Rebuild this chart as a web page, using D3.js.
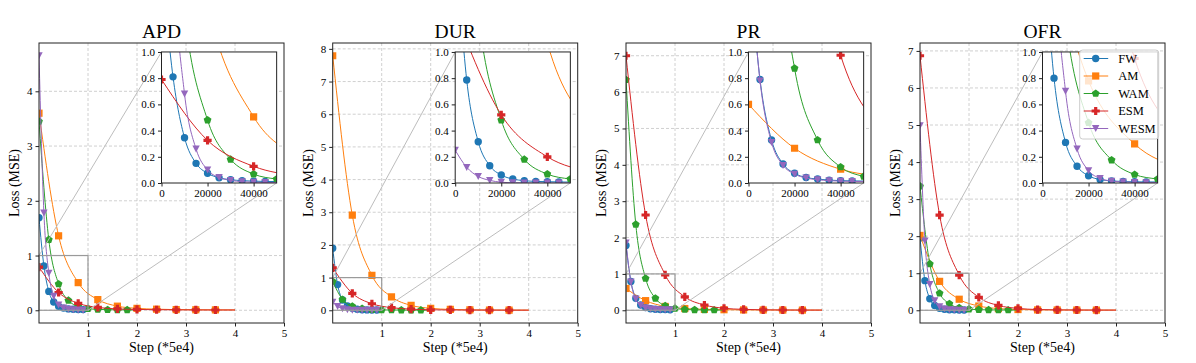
<!DOCTYPE html>
<html>
<head>
<meta charset="utf-8">
<script src="https://cdn.jsdelivr.net/npm/d3@7"></script>
<style>
  body { margin: 0; background: #fff; }
  text { font-family: "Liberation Serif", "Times New Roman", serif; fill: #000; }
</style>
</head>
<body>
<svg id="chart" width="1196" height="363"></svg>
<script>
// ---- data ----
const panels = ["APD", "DUR", "PR", "OFR"];
const methods = ["FW", "AM", "WAM", "ESM", "WESM"];
const colors = ["#1f77b4", "#ff7f0e", "#2ca02c", "#d62728", "#9467bd"];
const shapes = ["circle", "square", "pentagon", "plus", "triangle"];
// gap between recorded points, in units of 5e4 steps
const pointGap = [0.1, 0.4, 0.2, 0.4, 0.1];

const xTicks = [1, 2, 3, 4, 5];
const yTicks = {
  APD: [0, 1, 2, 3, 4],
  DUR: [0, 1, 2, 3, 4, 5, 6, 7, 8],
  PR: [0, 1, 2, 3, 4, 5, 6, 7],
  OFR: [0, 1, 2, 3, 4, 5, 6, 7]
};
const insetXTicks = [0, 20000, 40000];
const insetYTicks = [0, 0.2, 0.4, 0.6, 0.8, 1.0];

const APD = {
  FW:   [1.69, 0.81, 0.345, 0.15, 0.074, 0.04, 0.025, 0.018, 0.014, 0.012, 0.011],
  AM:   [3.6, 1.36, 0.505, 0.195, 0.075, 0.035, 0.02, 0.012, 0.009, 0.007, 0.006],
  WAM:  [3.45, 1.29, 0.48, 0.18, 0.068, 0.03, 0.016, 0.01, 0.008, 0.006, 0.005],
  ESM:  [0.79, 0.325, 0.127, 0.052, 0.025, 0.015, 0.01, 0.008, 0.006, 0.005, 0.005],
  WESM: [4.65, 1.78, 0.68, 0.26, 0.1, 0.042, 0.02, 0.01, 0.006, 0.004, 0.003]
};
const DUR = {
  FW:   [1.9, 0.786, 0.315, 0.132, 0.061, 0.03, 0.018, 0.012, 0.01, 0.008, 0.007],
  AM:   [7.79, 2.91, 1.07, 0.41, 0.15, 0.06, 0.025, 0.012, 0.008, 0.005, 0.005],
  WAM:  [0.88, 0.33, 0.12, 0.05, 0.02, 0.01, 0.007, 0.005, 0.004, 0.004, 0.003],
  ESM:  [1.3, 0.52, 0.2, 0.08, 0.035, 0.015, 0.01, 0.007, 0.005, 0.004, 0.004],
  WESM: [0.25, 0.12, 0.05, 0.02, 0.006, 0.002, 0.001, 0, 0, 0, 0]
};
const PR = {
  FW:   [1.78, 0.79, 0.328, 0.145, 0.074, 0.042, 0.03, 0.022, 0.018, 0.016, 0.015],
  AM:   [0.6, 0.265, 0.105, 0.048, 0.025, 0.015, 0.01, 0.008, 0.006, 0.005, 0.005],
  WAM:  [6.34, 2.36, 0.875, 0.328, 0.122, 0.05, 0.022, 0.012, 0.008, 0.006, 0.005],
  ESM:  [7.0, 2.62, 0.975, 0.37, 0.145, 0.055, 0.025, 0.012, 0.008, 0.006, 0.005],
  WESM: [1.85, 0.78, 0.31, 0.135, 0.068, 0.038, 0.025, 0.018, 0.014, 0.012, 0.011]
};
const OFR = {
  FW:   [1.95, 0.8, 0.31, 0.128, 0.055, 0.026, 0.016, 0.011, 0.009, 0.008, 0.008],
  AM:   [2.02, 0.78, 0.298, 0.115, 0.045, 0.02, 0.01, 0.008, 0.006, 0.005, 0.005],
  WAM:  [3.35, 1.25, 0.46, 0.175, 0.065, 0.03, 0.015, 0.01, 0.008, 0.006, 0.005],
  ESM:  [6.87, 2.57, 0.95, 0.35, 0.13, 0.05, 0.02, 0.01, 0.007, 0.005, 0.005],
  WESM: [4.98, 1.87, 0.7, 0.26, 0.095, 0.035, 0.015, 0.008, 0.005, 0.003, 0.003]
};
const lossByPanel = { APD, DUR, PR, OFR };
// the DUR zoom-in shows the APD WAM curve
const insetOverride = { DUR: { WAM: APD.WAM } };

// ---- layout ----
const frameLeft = [39, 332.7, 626, 920];
const frameTop = 43, frameW = 245, frameH = 280;
const inset = { x: 0.5, y: 0.032, w: 0.47, h: 0.468 };

const svg = d3.select("#chart");
const defs = svg.append("defs");

function markerPath(shape) {
  if (shape === "circle") return d3.symbol(d3.symbolCircle, Math.PI * 3.7 * 3.7)();
  if (shape === "square") return "M-3.6,-3.6H3.6V3.6H-3.6Z";
  if (shape === "pentagon") {
    const r = 4.1;
    return "M" + d3.range(5).map(k => {
      const a = -Math.PI / 2 + k * 2 * Math.PI / 5;
      return [r * Math.cos(a), r * Math.sin(a)].join(",");
    }).join("L") + "Z";
  }
  if (shape === "plus") {
    const a = 4.1, b = 1.6;
    return `M${-b},${-a}H${b}V${-b}H${a}V${b}H${b}V${a}H${-b}V${b}H${-a}V${-b}H${-b}Z`;
  }
  return "M-3.7,-3.4H3.7L0,3.6Z";
}

function seriesPoints(m, vals, scaleX) {
  return vals.map((v, i) => ({ x: i * pointGap[m] * scaleX, y: v, mark: i < vals.length - 1 }));
}

function drawSeries(g, x, y, data, scaleX) {
  methods.forEach((name, m) => {
    const pts = seriesPoints(m, data[name], scaleX);
    const line = d3.line().x(d => x(d.x)).y(d => y(d.y)).curve(d3.curveMonotoneX);
    g.append("path").attr("d", line(pts)).attr("fill", "none")
      .attr("stroke", colors[m]).attr("stroke-width", 1);
    g.selectAll(null).data(pts.filter(d => d.mark)).join("path")
      .attr("d", markerPath(shapes[m]))
      .attr("transform", d => `translate(${x(d.x)},${y(d.y)})`)
      .attr("fill", colors[m]);
  });
}

panels.forEach((name, p) => {
  const data = lossByPanel[name];
  const L = frameLeft[p];
  const g = svg.append("g").attr("transform", `translate(${L},${frameTop})`);

  const all = methods.flatMap(m => data[m]);
  const ymax = d3.max(all), ymin = Math.min(0, d3.min(all));
  const pad = (ymax - ymin) * 0.05;
  const x = d3.scaleLinear().domain([0, 5]).range([0, frameW]);
  const y = d3.scaleLinear().domain([ymin - pad, ymax + pad]).range([frameH, 0]);

  // grid
  g.append("g").selectAll("line").data(xTicks.filter(t => t < 5)).join("line")
    .attr("x1", d => x(d)).attr("x2", d => x(d)).attr("y1", 0).attr("y2", frameH)
    .attr("stroke", "#c4c4c4").attr("stroke-width", 0.8).attr("stroke-dasharray", "3,2");
  g.append("g").selectAll("line").data(yTicks[name]).join("line")
    .attr("x1", 0).attr("x2", frameW).attr("y1", d => y(d)).attr("y2", d => y(d))
    .attr("stroke", "#c4c4c4").attr("stroke-width", 0.8).attr("stroke-dasharray", "3,2");

  // clipped series
  const clipId = "clip-main-" + p;
  defs.append("clipPath").attr("id", clipId).append("rect")
    .attr("width", frameW).attr("height", frameH);
  const plot = g.append("g").attr("clip-path", `url(#${clipId})`);
  drawSeries(plot, x, y, data, 1);

  // zoom indicator
  const ix0 = inset.x * frameW, iy0 = inset.y * frameH;
  const iw = inset.w * frameW, ih = inset.h * frameH;
  g.append("rect").attr("x", x(0)).attr("y", y(1))
    .attr("width", x(1) - x(0)).attr("height", y(0) - y(1))
    .attr("fill", "none").attr("stroke", "#9a9a9a").attr("stroke-width", 1.2);
  g.append("line").attr("x1", x(0)).attr("y1", y(1)).attr("x2", ix0).attr("y2", iy0)
    .attr("stroke", "#bdbdbd").attr("stroke-width", 1);
  g.append("line").attr("x1", x(1)).attr("y1", y(0)).attr("x2", ix0 + iw).attr("y2", iy0 + ih)
    .attr("stroke", "#bdbdbd").attr("stroke-width", 1);

  // frame
  g.append("rect").attr("width", frameW).attr("height", frameH)
    .attr("fill", "none").attr("stroke", "#222").attr("stroke-width", 1);

  // axes
  const ax = g.append("g").attr("transform", `translate(0,${frameH})`)
    .call(d3.axisBottom(x).tickValues(xTicks).tickSize(3.5).tickPadding(3).tickFormat(d3.format("d")));
  const ay = g.append("g")
    .call(d3.axisLeft(y).tickValues(yTicks[name]).tickSize(3.5).tickPadding(3).tickFormat(d3.format("d")));
  [ax, ay].forEach(a => {
    a.select(".domain").remove();
    a.selectAll("text").attr("font-size", 11).attr("font-family", "Liberation Serif");
    a.selectAll("line").attr("stroke", "#222");
  });

  g.append("text").attr("x", frameW / 2).attr("y", -5.5).attr("text-anchor", "middle")
    .attr("font-size", 19.5).text(name);
  g.append("text").attr("x", frameW / 2).attr("y", 309).attr("text-anchor", "middle")
    .attr("font-size", 14).text("Step (*5e4)");
  g.append("text").attr("transform", `translate(-20,${frameH / 2}) rotate(-90)`)
    .attr("text-anchor", "middle").attr("font-size", 14).text("Loss (MSE)");

  // inset
  const ig = g.append("g").attr("transform", `translate(${ix0},${iy0})`);
  ig.append("rect").attr("width", iw).attr("height", ih).attr("fill", "#fff");
  const xi = d3.scaleLinear().domain([0, 50000]).range([0, iw]);
  const yi = d3.scaleLinear().domain([0, 1]).range([ih, 0]);
  const insetClip = "clip-inset-" + p;
  defs.append("clipPath").attr("id", insetClip).append("rect").attr("width", iw).attr("height", ih);
  const insetData = Object.assign({}, data, insetOverride[name] || {});
  drawSeries(ig.append("g").attr("clip-path", `url(#${insetClip})`), xi, yi, insetData, 5e4);
  ig.append("rect").attr("width", iw).attr("height", ih)
    .attr("fill", "none").attr("stroke", "#222").attr("stroke-width", 1);
  const iax = ig.append("g").attr("transform", `translate(0,${ih})`)
    .call(d3.axisBottom(xi).tickValues(insetXTicks).tickSize(3.5).tickPadding(3).tickFormat(d3.format("d")));
  const iay = ig.append("g")
    .call(d3.axisLeft(yi).tickValues(insetYTicks).tickSize(3.5).tickPadding(3).tickFormat(d3.format(".1f")));
  [iax, iay].forEach(a => {
    a.select(".domain").remove();
    a.selectAll("text").attr("font-size", 11).attr("font-family", "Liberation Serif");
    a.selectAll("line").attr("stroke", "#222");
  });

  // legend on the last panel
  if (p === panels.length - 1) {
    const lw = 79, lh = 89;
    const lg = g.append("g").attr("transform", `translate(${frameW - 6.3 - lw},7)`);
    lg.append("rect").attr("width", lw).attr("height", lh).attr("rx", 3)
      .attr("fill", "#fff").attr("fill-opacity", 0.8)
      .attr("stroke", "#cccccc").attr("stroke-width", 1);
    methods.forEach((label, m) => {
      const ry = 8.5 + m * 17.5;
      lg.append("line").attr("x1", 4).attr("x2", 28.5).attr("y1", ry).attr("y2", ry)
        .attr("stroke", colors[m]).attr("stroke-width", 1);
      lg.append("path").attr("d", markerPath(shapes[m]))
        .attr("transform", `translate(16,${ry})`).attr("fill", colors[m]);
      lg.append("text").attr("x", 38.5).attr("y", ry).attr("dy", "0.35em")
        .attr("font-size", 12.5).text(label);
    });
  }
});
</script>
</body>
</html>
